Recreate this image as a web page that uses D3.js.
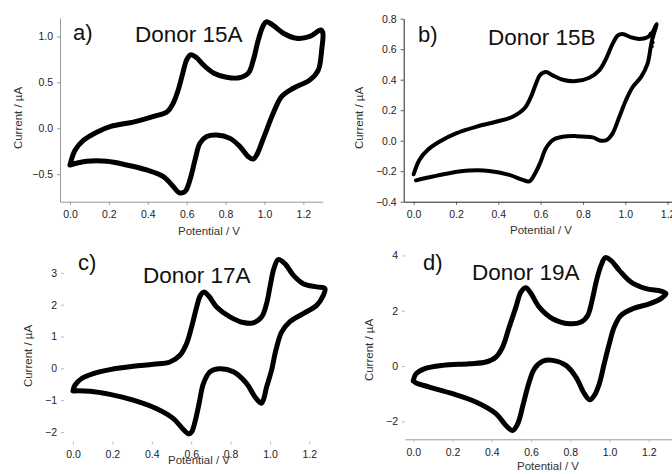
<!DOCTYPE html>
<html>
<head>
<meta charset="utf-8">
<script src="https://cdn.jsdelivr.net/npm/d3@7"></script>
<style>
    body { margin: 0; background: #fff; }
    svg { font-family: "Liberation Sans", Arial, sans-serif; }
</style>
</head>
<body>
<div id="chart"></div>
<script>
// cyclic voltammograms, [potential / V, current / uA]
// forward scan first, then the return scan back to the start
let donor15A = [
    [0.00, -0.40], [0.026, -0.24], [0.07, -0.13], [0.14, -0.04], [0.21, 0.02],
    [0.33, 0.07], [0.43, 0.13], [0.50, 0.18], [0.53, 0.27], [0.557, 0.42],
    [0.58, 0.60], [0.60, 0.745], [0.62, 0.80], [0.65, 0.77], [0.686, 0.69],
    [0.74, 0.60], [0.805, 0.556], [0.87, 0.55], [0.917, 0.60], [0.943, 0.745],
    [0.968, 0.96], [0.994, 1.12], [1.011, 1.16], [1.045, 1.12], [1.097, 1.035],
    [1.165, 0.98], [1.234, 1.00], [1.29, 1.07], [1.30, 1.04],
    [1.294, 0.85], [1.277, 0.635], [1.234, 0.527], [1.148, 0.436], [1.088, 0.345],
    [1.045, 0.163], [1.011, -0.02], [0.985, -0.163], [0.96, -0.29], [0.943, -0.335],
    [0.917, -0.31], [0.874, -0.20], [0.823, -0.11], [0.754, -0.073], [0.703, -0.09],
    [0.668, -0.163], [0.643, -0.345], [0.617, -0.56], [0.591, -0.69], [0.56, -0.70],
    [0.531, -0.635], [0.48, -0.527], [0.394, -0.454], [0.291, -0.40], [0.189, -0.36],
    [0.086, -0.36], [0.00, -0.40]
];

let donor15B = [
    [0.00, -0.22], [0.027, -0.126], [0.066, -0.061], [0.121, -0.007], [0.20, 0.048],
    [0.294, 0.091], [0.389, 0.124], [0.468, 0.157], [0.523, 0.211], [0.554, 0.287],
    [0.578, 0.374], [0.597, 0.43], [0.625, 0.45], [0.657, 0.428], [0.704, 0.40],
    [0.767, 0.391], [0.83, 0.413], [0.877, 0.461], [0.909, 0.537], [0.94, 0.635],
    [0.964, 0.689], [0.987, 0.70], [1.027, 0.678], [1.066, 0.667], [1.105, 0.678],
    [1.129, 0.711], [1.148, 0.765],
    [1.126, 0.657], [1.12, 0.613], [1.105, 0.504], [1.074, 0.417], [1.035, 0.352],
    [1.003, 0.265], [0.972, 0.157], [0.94, 0.048], [0.912, 0.004], [0.885, 0.00],
    [0.846, 0.022], [0.767, 0.03], [0.704, 0.026], [0.657, 0.004], [0.625, -0.05],
    [0.597, -0.148], [0.57, -0.224], [0.546, -0.267], [0.515, -0.257], [0.452, -0.224],
    [0.357, -0.198], [0.263, -0.196], [0.168, -0.213], [0.09, -0.235], [0.011, -0.26]
];

// loose points near the switching potential of 15B
let donor15BTail = [[1.12, 0.70], [1.13, 0.685], [1.128, 0.645], [1.124, 0.62]];

let donor17A = [
    [0.00, -0.71], [0.01, -0.53], [0.044, -0.32], [0.103, -0.166], [0.188, -0.04],
    [0.306, 0.065], [0.408, 0.128], [0.492, 0.20], [0.543, 0.41], [0.577, 0.78],
    [0.602, 1.30], [0.628, 1.93], [0.645, 2.27], [0.665, 2.40], [0.692, 2.25],
    [0.729, 1.93], [0.797, 1.62], [0.865, 1.44], [0.915, 1.43], [0.958, 1.62],
    [0.983, 2.04], [1.003, 2.66], [1.02, 3.14], [1.042, 3.42], [1.076, 3.29],
    [1.118, 2.93], [1.169, 2.66], [1.237, 2.56], [1.279, 2.51],
    [1.271, 2.30], [1.237, 1.98], [1.169, 1.72], [1.10, 1.46], [1.059, 1.14],
    [1.03, 0.57], [1.008, -0.06], [0.983, -0.585], [0.966, -1.0], [0.955, -1.1],
    [0.924, -0.9], [0.882, -0.48], [0.814, -0.11], [0.746, -0.01], [0.695, -0.11],
    [0.662, -0.48], [0.64, -1.11], [0.619, -1.69], [0.602, -2.0], [0.588, -2.06],
    [0.557, -1.9], [0.51, -1.58], [0.425, -1.27], [0.306, -1.0], [0.188, -0.82],
    [0.086, -0.72], [0.00, -0.71]
];

let donor19A = [
    [0.00, -0.54], [0.014, -0.28], [0.056, -0.10], [0.15, 0.024], [0.285, 0.084],
    [0.37, 0.145], [0.421, 0.325], [0.455, 0.687], [0.489, 1.41], [0.523, 2.13],
    [0.549, 2.68], [0.574, 2.83], [0.60, 2.62], [0.642, 2.13], [0.71, 1.71],
    [0.795, 1.53], [0.855, 1.59], [0.889, 1.83], [0.911, 2.37], [0.934, 3.10],
    [0.957, 3.64], [0.979, 3.92], [1.007, 3.82], [1.05, 3.46], [1.109, 3.04],
    [1.186, 2.80], [1.262, 2.71], [1.288, 2.62],
    [1.262, 2.44], [1.203, 2.25], [1.118, 2.07], [1.058, 1.83], [1.024, 1.41],
    [0.999, 0.81], [0.973, 0.084], [0.948, -0.64], [0.923, -1.06], [0.90, -1.22],
    [0.872, -1.0], [0.829, -0.40], [0.778, 0.024], [0.71, 0.205], [0.659, 0.17],
    [0.617, -0.10], [0.588, -0.64], [0.561, -1.36], [0.532, -2.09], [0.506, -2.33],
    [0.472, -2.15], [0.421, -1.72], [0.319, -1.30], [0.20, -1.0], [0.082, -0.76],
    [0.014, -0.61], [0.00, -0.54]
];

let xTicksA = [0, 0.2, 0.4, 0.6, 0.8, 1.0, 1.2];
let yTicksA = [-0.5, 0, 0.5, 1.0];
let xTicksB = [0, 0.2, 0.4, 0.6, 0.8, 1.0, 1.2];
let yTicksB = [-0.4, -0.2, 0, 0.2, 0.4, 0.6, 0.8];
let xTicksC = [0, 0.2, 0.4, 0.6, 0.8, 1.0, 1.2];
let yTicksC = [-2, -1, 0, 1, 2, 3];
let xTicksD = [0, 0.2, 0.4, 0.6, 0.8, 1.0, 1.2];
let yTicksD = [-2, 0, 2, 4];

let panels = [
    {
        data: donor15A, xTicks: xTicksA, yTicks: yTicksA, yFmt: ".1f",
        letter: "a)", name: "Donor 15A",
        x: [60, 322.8], xDom: [-0.0514, 1.3], y: [201.7, 18.1], yDom: [-0.8, 1.2],
        xAxisLine: "#999", yAxisLine: "#999", tick: "#999",
        letterPos: [73, 40], namePos: [135, 42],
        yTitlePos: [18, 118], xTitlePos: [209, 235], width: 5
    },
    {
        data: donor15B, xTicks: xTicksB, yTicks: yTicksB, yFmt: ".1f",
        letter: "b)", name: "Donor 15B",
        x: [403.7, 678.2], xDom: [-0.047, 1.25], y: [201.7, 18.7], yDom: [-0.4, 0.8],
        xAxisLine: "#222", yAxisLine: "#222", tick: "#555",
        letterPos: [418, 42], namePos: [488, 45],
        yTitlePos: [359, 118], xTitlePos: [541, 234], width: 4
    },
    {
        data: donor17A, xTicks: xTicksC, yTicks: yTicksC, yFmt: "d",
        letter: "c)", name: "Donor 17A",
        x: [64, 333], xDom: [-0.0457, 1.32], y: [441.5, 257], yDom: [-2.3, 3.5],
        xAxisLine: null, yAxisLine: null, tick: "#bbb",
        letterPos: [78, 270], namePos: [143, 283],
        yTitlePos: [28, 356], xTitlePos: [199, 464], width: 5
    },
    {
        data: donor19A, xTicks: xTicksD, yTicks: yTicksD, yFmt: "d",
        letter: "d)", name: "Donor 19A",
        x: [405, 672], xDom: [-0.0423, 1.3185], y: [439.3, 249.9], yDom: [-2.65, 4.2],
        xAxisLine: "#999", yAxisLine: null, tick: "#bbb",
        letterPos: [423, 270], namePos: [472, 280],
        yTitlePos: [369, 350], xTitlePos: [548, 470], width: 5
    }
];

let svg = d3.select("#chart")
    .append("svg")
    .attr("width", 672)
    .attr("height", 474);

panels.forEach((p) => {
    let x = d3.scaleLinear().domain(p.xDom).range(p.x);
    let y = d3.scaleLinear().domain(p.yDom).range(p.y);
    let g = svg.append("g");

    let xAxis = g.append("g")
        .attr("transform", `translate(0,${p.y[0]})`)
        .call(d3.axisBottom(x).tickValues(p.xTicks).tickFormat(d3.format(".1f"))
            .tickSize(3).tickSizeOuter(0).tickPadding(6));
    let yAxis = g.append("g")
        .attr("transform", `translate(${p.x[0]},0)`)
        .call(d3.axisLeft(y).tickValues(p.yTicks).tickFormat(d3.format(p.yFmt))
            .tickSize(3).tickSizeOuter(0).tickPadding(4));

    [[xAxis, p.xAxisLine], [yAxis, p.yAxisLine]].forEach(([ax, col]) => {
        if (col) ax.select(".domain").attr("stroke", col);
        else ax.select(".domain").remove();
        ax.selectAll(".tick line").attr("stroke", p.tick);
        ax.selectAll(".tick text").attr("fill", "#222").style("font-size", "10.5px");
    });

    let line = d3.line()
        .x((d) => x(d[0]))
        .y((d) => y(d[1]))
        .curve(d3.curveCatmullRom.alpha(0.5));

    g.append("path")
        .datum(p.data)
        .attr("d", line)
        .attr("fill", "none")
        .attr("stroke", "#000")
        .attr("stroke-width", p.width)
        .attr("stroke-linejoin", "round")
        .attr("stroke-linecap", "round");

    if (p.name === "Donor 15B") {
        g.selectAll(".tail")
            .data(donor15BTail)
            .enter()
            .append("circle")
            .attr("cx", (d) => x(d[0]))
            .attr("cy", (d) => y(d[1]))
            .attr("r", 2.2)
            .attr("fill", "#000");
    }

    g.append("text")
        .attr("x", p.letterPos[0]).attr("y", p.letterPos[1])
        .style("font-size", "22px").attr("fill", "#111")
        .text(p.letter);
    g.append("text")
        .attr("x", p.namePos[0]).attr("y", p.namePos[1])
        .style("font-size", "22.5px").attr("fill", "#111")
        .text(p.name);

    g.append("text")
        .attr("transform", `translate(${p.yTitlePos[0]},${p.yTitlePos[1]}) rotate(-90)`)
        .attr("text-anchor", "middle")
        .attr("dy", "0.35em")
        .style("font-size", "11.5px").attr("fill", "#333")
        .text("Current / µA");
    g.append("text")
        .attr("x", p.xTitlePos[0]).attr("y", p.xTitlePos[1])
        .attr("text-anchor", "middle")
        .style("font-size", "11.5px").attr("fill", "#333")
        .text("Potential / V");
});
</script>
</body>
</html>
